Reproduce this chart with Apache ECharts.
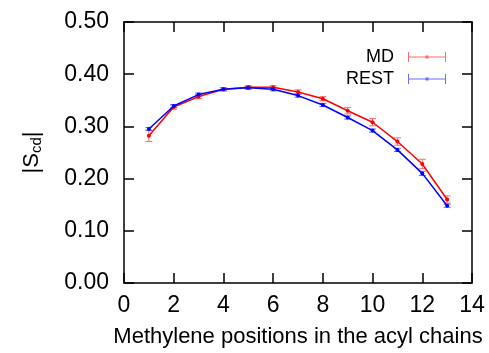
<!DOCTYPE html>
<html>
<head>
<meta charset="utf-8">
<script src="https://cdn.jsdelivr.net/npm/echarts@6/dist/echarts.min.js"></script>
<style>html,body{margin:0;padding:0;background:#fff}#c{width:489px;height:353px}</style>
</head>
<body>
<div id="c"></div>
<script>
var positions = [1, 2, 3, 4, 5, 6, 7, 8, 9, 10, 11, 12, 13];
var mdValues = [0.282, 0.337, 0.357, 0.371, 0.375, 0.375, 0.366, 0.353, 0.330, 0.308, 0.271, 0.228, 0.160];
var mdErrors = [0.011, 0.004, 0.004, 0.003, 0.003, 0.003, 0.004, 0.004, 0.006, 0.007, 0.007, 0.009, 0.007];
var restValues = [0.295, 0.339, 0.361, 0.371, 0.374, 0.371, 0.359, 0.341, 0.317, 0.292, 0.255, 0.210, 0.148];
var restErrors = [0.003, 0.003, 0.003, 0.003, 0.003, 0.003, 0.003, 0.003, 0.003, 0.003, 0.003, 0.004, 0.003];
var xTicks = [0, 2, 4, 6, 8, 10, 12, 14];
var yTicks = [0.00, 0.10, 0.20, 0.30, 0.40, 0.50];

var FONT = 'Liberation Sans, Arial, Helvetica, sans-serif';

function pairs(vals) { return positions.map(function (p, i) { return [p, vals[i]]; }); }
function errData(vals, errs) { return positions.map(function (p, i) { return [p, vals[i] - errs[i], vals[i] + errs[i]]; }); }

function errRender(color) {
  return function (params, api) {
    var x = api.value(0);
    var lo = api.coord([x, api.value(1)]);
    var hi = api.coord([x, api.value(2)]);
    var w = 3.5;
    var st = { stroke: color, lineWidth: 1 };
    return {
      type: 'group',
      children: [
        { type: 'line', shape: { x1: lo[0], y1: lo[1], x2: hi[0], y2: hi[1] }, style: st },
        { type: 'line', shape: { x1: lo[0] - w, y1: lo[1], x2: lo[0] + w, y2: lo[1] }, style: st },
        { type: 'line', shape: { x1: hi[0] - w, y1: hi[1], x2: hi[0] + w, y2: hi[1] }, style: st }
      ]
    };
  };
}

var legendIcon = 'path://M0,0h1v10h-1z M37,0h1v10h-1z M0,4.5h38v1h-38z M17.5,3.5h3v3h-3z';

var axisLineStyle = { show: true, onZero: false, lineStyle: { color: '#000', width: 1.5 } };
var tickStyle = { show: true, inside: true, length: 10, lineStyle: { color: '#000', width: 1.5 } };

var chart = echarts.init(document.getElementById('c'), null, { renderer: 'canvas' });
chart.setOption({
  animation: false,
  backgroundColor: '#fff',
  textStyle: { fontFamily: FONT },
  grid: { left: 124, right: 17, top: 22, bottom: 70 },
  legend: {
    right: 38, top: 43, orient: 'vertical', align: 'right',
    itemWidth: 38, itemHeight: 10, itemGap: 4,
    icon: legendIcon,
    textStyle: { fontFamily: FONT, fontSize: 18, color: '#000', padding: [0, 9, 0, 0] },
    data: [
      { name: 'MD', itemStyle: { color: '#ff6a6a' } },
      { name: 'REST', itemStyle: { color: '#6a6aff' } }
    ]
  },
  xAxis: [{
    type: 'value', min: xTicks[0], max: xTicks[xTicks.length - 1], interval: 2,
    name: 'Methylene positions in the acyl chains', nameLocation: 'middle', nameGap: 43,
    nameTextStyle: { fontFamily: FONT, fontSize: 22, color: '#000' },
    axisLine: axisLineStyle, axisTick: tickStyle,
    axisLabel: { fontFamily: FONT, fontSize: 23, color: '#000', margin: 11 },
    splitLine: { show: false }
  }, {
    type: 'value', position: 'top', min: xTicks[0], max: xTicks[xTicks.length - 1], interval: 2,
    axisLine: axisLineStyle, axisTick: tickStyle,
    axisLabel: { show: false }, splitLine: { show: false }
  }],
  yAxis: [{
    type: 'value', min: yTicks[0], max: yTicks[yTicks.length - 1], interval: 0.1,
    name: '|S{sub|cd}|', nameLocation: 'middle', nameGap: 80, nameRotate: 90,
    nameTextStyle: {
      fontFamily: FONT, fontSize: 22, color: '#000',
      rich: { sub: { fontFamily: FONT, fontSize: 15, color: '#000', verticalAlign: 'bottom', padding: [10, 0, 0, 0] } }
    },
    axisLine: axisLineStyle, axisTick: tickStyle,
    axisLabel: { fontFamily: FONT, fontSize: 23, color: '#000', margin: 15, formatter: function (v) { return v.toFixed(2); } },
    splitLine: { show: false }
  }, {
    type: 'value', position: 'right', min: yTicks[0], max: yTicks[yTicks.length - 1], interval: 0.1,
    axisLine: axisLineStyle, axisTick: tickStyle,
    axisLabel: { show: false }, splitLine: { show: false }
  }],
  series: [
    {
      name: 'MD', type: 'line', data: pairs(mdValues), color: '#ff0000',
      lineStyle: { color: '#ff0000', width: 1.5 }, symbol: 'circle', symbolSize: 4,
      itemStyle: { color: '#ff0000' }, z: 3
    },
    {
      name: 'MD', type: 'custom', data: errData(mdValues, mdErrors),
      renderItem: errRender('#ff6a6a'), z: 2, encode: { x: 0, y: [1, 2] }
    },
    {
      name: 'REST', type: 'line', data: pairs(restValues), color: '#0000ff',
      lineStyle: { color: '#0000ff', width: 1.5 }, symbol: 'circle', symbolSize: 4,
      itemStyle: { color: '#0000ff' }, z: 4
    },
    {
      name: 'REST', type: 'custom', data: errData(restValues, restErrors),
      renderItem: errRender('#6a6aff'), z: 2, encode: { x: 0, y: [1, 2] }
    }
  ]
});
</script>
</body>
</html>
